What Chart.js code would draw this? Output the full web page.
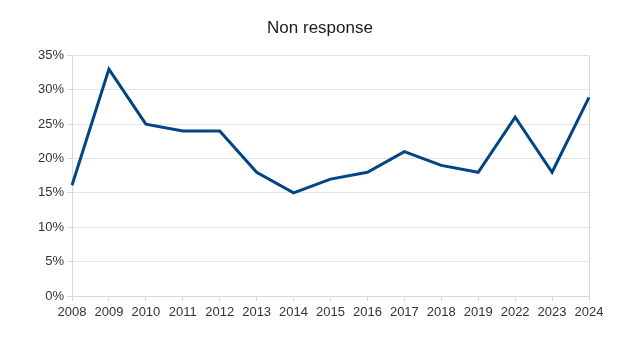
<!DOCTYPE html>
<html>
<head>
<meta charset="utf-8">
<script src="https://cdn.jsdelivr.net/npm/chart.js@4/dist/chart.umd.min.js"></script>
<style>
  html, body { margin: 0; padding: 0; background: #fff; }
  #wrap { width: 640px; height: 340px; }
</style>
</head>
<body>
<div id="wrap"><canvas id="nonResponse" width="640" height="340"></canvas></div>
<script>
// chart data
var years = ['2008', '2009', '2010', '2011', '2012', '2013', '2014', '2015', '2016',
             '2017', '2018', '2019', '2022', '2023', '2024'];
var nonResponse = [16.1, 33, 25, 24, 24, 18, 15, 17, 18, 21, 19, 18, 26, 18, 28.9];
var yTicks = [0, 5, 10, 15, 20, 25, 30, 35];

var lastIndex = years.length - 1;

var nonResponseChart = new Chart(document.getElementById('nonResponse'), {
  type: 'line',
  data: {
    labels: years,
    datasets: [{
      data: nonResponse,
      borderColor: '#004586',
      borderWidth: 3,
      pointRadius: 0,
      tension: 0,
      fill: false
    }]
  },
  options: {
    responsive: false,
    animation: false,
    layout: { padding: 0 },
    plugins: {
      legend: { display: false },
      tooltip: { enabled: false },
      title: {
        display: true,
        text: 'Non response',
        color: '#1a1a1a',
        font: { family: 'Liberation Sans', size: 17, weight: 'normal' },
        padding: { top: 18, bottom: 17 }
      }
    },
    scales: {
      x: {
        offset: false,
        grid: {
          // only the right edge of the plot is drawn
          color: function (ctx) { return ctx.index === lastIndex ? '#d9d9d9' : 'rgba(0,0,0,0)'; },
          tickColor: '#d9d9d9',
          tickLength: 5
        },
        border: { color: '#d9d9d9' },
        ticks: {
          color: '#333',
          font: { family: 'Liberation Sans', size: 13 },
          maxRotation: 0,
          autoSkip: false,
          padding: 4
        },
        afterFit: function (scale) { scale.height = 44; }
      },
      y: {
        min: 0,
        max: 35,
        afterBuildTicks: function (scale) {
          scale.ticks = yTicks.map(function (v) { return { value: v }; });
        },
        grid: { color: '#e3e3e3', tickColor: '#d9d9d9', tickLength: 5 },
        border: { color: '#d9d9d9' },
        ticks: {
          color: '#333',
          font: { family: 'Liberation Sans', size: 13 },
          padding: 3,
          callback: function (v) { return v + '%'; }
        },
        afterFit: function (scale) { scale.width = 72; }
      },
      // empty right axis, only reserves the right margin so the title stays centred
      spacer: {
        type: 'linear',
        position: 'right',
        grid: { display: false },
        border: { display: false },
        ticks: { display: false },
        afterFit: function (scale) { scale.width = 51; }
      }
    }
  }
});
</script>
</body>
</html>
